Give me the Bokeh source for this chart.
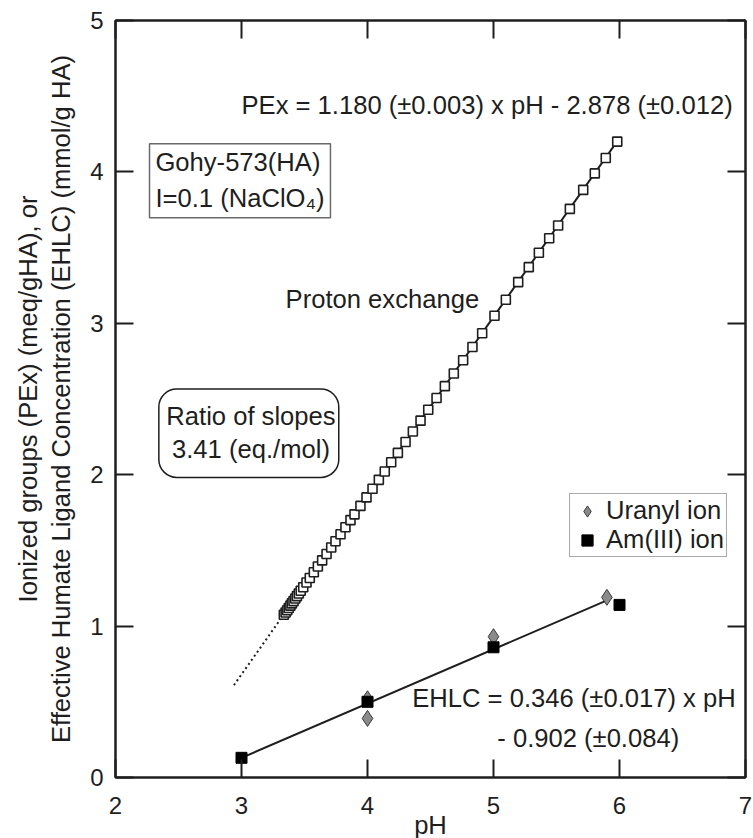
from bokeh.plotting import figure
from bokeh.models import (Range1d, LinearAxis, FixedTicker, Label, BoxAnnotation,
                          Legend, LegendItem, CustomJSTickFormatter)
from bokeh.embed import file_html
from bokeh.resources import INLINE

# ---------------- data ----------------
pex_ph = [3.336, 3.350, 3.363, 3.375, 3.388, 3.400, 3.413, 3.427, 3.440, 3.455,
          3.470, 3.490, 3.516, 3.542, 3.574, 3.606, 3.640, 3.675, 3.712, 3.746,
          3.786, 3.825, 3.865, 3.897, 3.944, 3.992, 4.040, 4.090, 4.137, 4.188,
          4.241, 4.302, 4.360, 4.421, 4.482, 4.548, 4.614, 4.685, 4.759, 4.833,
          4.910, 5.008, 5.098, 5.196, 5.280, 5.360, 5.442, 5.513, 5.606, 5.712,
          5.804, 5.891, 5.982]
pex_val = [1.075, 1.090, 1.105, 1.120, 1.135, 1.150, 1.165, 1.182, 1.198, 1.215,
           1.233, 1.257, 1.288, 1.318, 1.356, 1.394, 1.434, 1.476, 1.519, 1.560,
           1.607, 1.653, 1.700, 1.738, 1.794, 1.850, 1.907, 1.966, 2.021, 2.082,
           2.144, 2.216, 2.285, 2.357, 2.429, 2.507, 2.585, 2.668, 2.756, 2.843,
           2.934, 3.050, 3.156, 3.272, 3.371, 3.466, 3.562, 3.646, 3.756, 3.881,
           3.990, 4.092, 4.200]
pex_fit_ph = [3.33, 5.98]
pex_fit_val = [1.07, 4.20]
pex_ext_ph = [2.94, 3.33]
pex_ext_val = [0.61, 1.07]

uranyl_ph = [4.0, 4.0, 5.0, 5.9]
uranyl_val = [0.52, 0.39, 0.93, 1.19]
am_ph = [3.0, 4.0, 5.0, 6.0]
am_val = [0.13, 0.50, 0.86, 1.14]
ehlc_fit_ph = [3.0, 5.9]
ehlc_fit_val = [0.13, 1.17]

x_ticks = [2, 3, 4, 5, 6, 7]
y_ticks = [0, 1, 2, 3, 4, 5]

# ---------------- style ----------------
FONT = "Liberation Sans"
INK = "#1e1e1e"
TICK_FS = "24px"
TXT_FS = "25.6px"

p = figure(frame_width=630, frame_height=757,
           x_range=Range1d(2, 7), y_range=Range1d(0, 5),
           output_backend="svg", toolbar_location=None,
           min_border_left=115, min_border_right=8,
           min_border_top=20, min_border_bottom=61,
           x_axis_label="pH",
           y_axis_label="Ionized groups (PEx) (meq/gHA), or\nEffective Humate Ligand Concentration (EHLC) (mmol/g HA)")
p.background_fill_color = "white"
p.border_fill_color = "white"
p.grid.visible = False
p.outline_line_color = INK
p.outline_line_width = 2


def style_axis(ax, ticks, show_labels):
    ax.ticker = FixedTicker(ticks=ticks)
    ax.major_tick_in = 18
    ax.major_tick_out = 0
    ax.minor_tick_line_color = None
    ax.axis_line_color = INK
    ax.axis_line_width = 2
    ax.major_tick_line_color = INK
    ax.major_tick_line_width = 2
    ax.major_label_text_font = FONT
    ax.major_label_text_font_size = TICK_FS
    ax.major_label_text_color = INK
    ax.axis_label_text_font = FONT
    ax.axis_label_text_font_size = TXT_FS
    ax.axis_label_text_font_style = "normal"
    ax.axis_label_text_color = INK
    if not show_labels:
        ax.formatter = CustomJSTickFormatter(code="return ''")
        ax.major_label_standoff = 0


style_axis(p.xaxis[0], x_ticks, True)
style_axis(p.yaxis[0], y_ticks, True)
p.xaxis[0].major_label_standoff = 19
p.xaxis[0].axis_label_standoff = -6
p.yaxis[0].major_label_standoff = 12
p.yaxis[0].axis_label_standoff = 12

top_ax = LinearAxis()
style_axis(top_ax, x_ticks, False)
p.add_layout(top_ax, "above")
right_ax = LinearAxis()
style_axis(right_ax, y_ticks, False)
p.add_layout(right_ax, "right")

# ---------------- lines ----------------
p.line(pex_ext_ph, pex_ext_val, line_color=INK, line_width=2, line_dash="2 3")
p.line(pex_fit_ph, pex_fit_val, line_color=INK, line_width=2)
p.line(ehlc_fit_ph, ehlc_fit_val, line_color=INK, line_width=2)

# ---------------- markers ----------------
p.scatter(pex_ph, pex_val, marker="square", size=9, fill_color="white",
          line_color=INK, line_width=1.6)
r_u = p.scatter(uranyl_ph, uranyl_val, marker="diamond", size=16,
                fill_color="#8a8a8a", line_color="#3a3a3a", line_width=1)
r_am = p.scatter(am_ph, am_val, marker="square", size=11, fill_color="black",
                 line_color="black", line_width=1)

# ---------------- annotations ----------------
def txt(x, y, s, align="left"):
    p.add_layout(Label(x=x, y=y, text=s, text_font=FONT, text_font_size=TXT_FS,
                       text_color=INK, text_align=align, text_baseline="middle"))


txt(3.0, 4.44, "PEx = 1.180 (\u00b10.003) x pH - 2.878 (\u00b10.012)")
txt(3.35, 3.16, "Proton exchange")
txt(4.355, 0.527, "EHLC = 0.346 (\u00b10.017) x pH")
txt(5.03, 0.264, "- 0.902 (\u00b10.084)")

# Gohy box
p.add_layout(BoxAnnotation(left=2.27, right=3.706, bottom=3.697, top=4.186,
                           fill_color="white", fill_alpha=1.0,
                           line_color="#6a6a6a", line_alpha=1.0, line_width=1.5,
                           level="underlay"))
txt(2.317, 4.064, "Gohy-573(HA)")
txt(2.317, 3.830, "I=0.1 (NaClO\u2084)")

# Ratio box
p.add_layout(BoxAnnotation(left=2.344, right=3.772, bottom=1.982, top=2.566,
                           fill_color="white", fill_alpha=1.0, border_radius=18,
                           line_color=INK, line_alpha=1.0, line_width=1.5,
                           level="underlay"))
txt(3.075, 2.390, "Ratio of slopes", align="center")
txt(3.075, 2.170, "3.41 (eq./mol)", align="center")

# ---------------- legend ----------------
legend = Legend(items=[LegendItem(label="Uranyl ion", renderers=[r_u]),
                       LegendItem(label="Am(III) ion", renderers=[r_am])],
                location=(454, 220), orientation="vertical",
                label_text_font=FONT, label_text_font_size=TXT_FS,
                label_text_color=INK, glyph_width=30, glyph_height=28,
                label_height=28, label_standoff=4, padding=2, spacing=0,
                margin=0, border_line_color="#555555", border_line_width=1.5,
                background_fill_color="white", background_fill_alpha=1.0)
p.add_layout(legend, "center")

open("out.html", "w").write(file_html(p, INLINE))
